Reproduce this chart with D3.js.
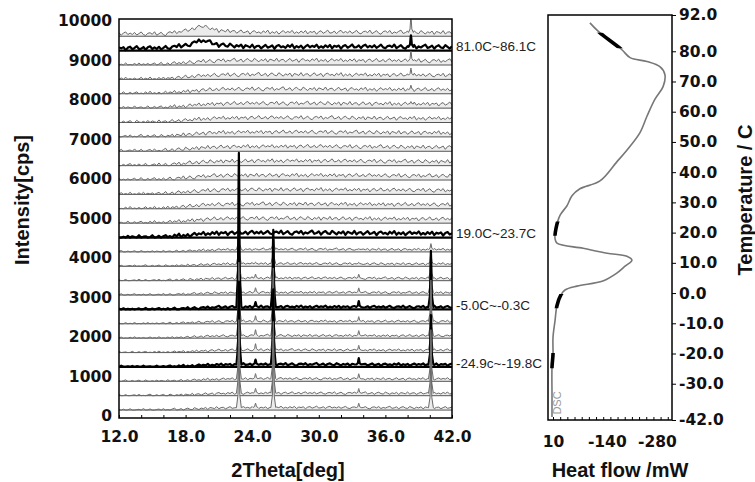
<!DOCTYPE html>
<html>
<head>
<meta charset="UTF-8" />
<title>XRD scans / DSC</title>
<script src="https://d3js.org/d3.v7.min.js"></script>
<style>
  body{margin:0;background:#fff;}
  text{font-family:"Liberation Sans",Arial,sans-serif;}
  .tk text{font-family:"DejaVu Sans",sans-serif;font-weight:bold;font-size:15.5px;fill:#111;}
  .title{font-weight:bold;font-size:20px;fill:#111;}
  .rlab{font-size:13.5px;fill:#222;}
</style>
</head>
<body>
<svg id="chart" width="755" height="482"></svg>
<script>
// ---- data ----
var thetaTicks = [12, 18, 24, 30, 36, 42]
var cpsTicks = [0, 1000, 2000, 3000, 4000, 5000, 6000, 7000, 8000, 9000, 10000]
var tempTicks = [92, 80, 70, 60, 50, 40, 30, 20, 10, 0, -10, -20, -30, -42]
var heatTicks = [10, -140, -280]

// 27 stacked scans, index 0 = bottom (coldest)
var scanBase0 = 150, scanStep = 364   // cps offset of each scan
var thickScans = [3, 7, 12, 25]
var rangeLabels = ["-24.9c~-19.8C", "-5.0C~-0.3C", "19.0C~23.7C", "81.0C~86.1C"]
var rangeTemps = [[-24.9, -19.8], [-5.0, -0.3], [19.0, 23.7], [81.0, 86.1]]

// background level above each scan's baseline (cps)
var bgAngles = [12, 16, 18, 19.5, 21, 24, 30, 36, 42]
var bgIce  = [0, 5, 20, 40, 55, 65, 65, 60, 60]
var bgWarm = [0, 15, 55, 90, 110, 120, 120, 110, 100]
var bgHump = [60, 60, 130, 260, 140, 100, 100, 100, 90]
var scanProfile = ["ice","ice","ice","ice","ice","ice","ice","ice","ice","ice","ice","ice",
  "warm","warm","warm","warm","warm","warm","warm","warm","warm","warm","warm","warm","warm",
  "hump","hump"]
var rippleGain = {ice: 1.6, warm: 2.6, hump: 2.6}
var ripple = [8,-6,14,-11,3,19,-7,-15,6,11,-4,21,-13,1,16,-9,-19,7,13,-3,18,-14,4,-6,10,22,-10,-2,13,-17,
  6,17,-5,-11,19,2,-15,8,-4,15,-18,11,3,-8,20,-13,5,9,-16,1,18,-9,-1,12,-20,7,16,-6,4,-12,14,-3,21,-15,
  6,-8,10,-18,2,17,-6,8,-2,19,-12,4,-10,13,-5,17,-16,8,-1,11,-19,6,15,-10,3,21,-8,-4,12,-14,9,19,-7]

// diffraction peaks (2theta) and heights per scan (cps)
var peakPos = [22.8, 24.3, 25.9, 33.6, 38.3, 40.1]
var peakHeights = [
  [1500, 110, 1400, 110, 0, 1200],
  [1500, 120, 1400, 120, 0, 1200],
  [1500, 130, 1450, 130, 0, 1250],
  [2100, 120, 1900, 160, 0, 1250],
  [1500, 160, 1400, 120, 0, 1100],
  [1500, 150, 1400, 130, 0, 1100],
  [1500, 140, 1350, 120, 0, 1050],
  [3900, 120, 1950, 150, 0, 1420],
  [1400, 120, 1400, 120, 0, 900],
  [1300, 100, 1150, 100, 0, 600],
  [900, 40, 750, 40, 0, 300],
  [600, 20, 400, 20, 0, 150],
  [0, 0, 0, 0, 0, 0],
  [0, 0, 0, 0, 0, 0],
  [0, 0, 0, 0, 0, 0],
  [0, 0, 0, 0, 0, 0],
  [0, 0, 0, 0, 0, 0],
  [0, 0, 0, 0, 0, 0],
  [0, 0, 0, 0, 0, 0],
  [0, 0, 0, 0, 0, 0],
  [0, 0, 0, 0, 0, 0],
  [0, 0, 0, 0, 60, 0],
  [0, 0, 0, 0, 110, 0],
  [0, 0, 0, 0, 180, 0],
  [0, 0, 0, 0, 250, 0],
  [0, 0, 0, 0, 290, 0],
  [0, 0, 0, 0, 400, 0]
]
var peakShape = [[-0.22, 0], [-0.08, 0.22], [-0.03, 0.8], [0, 1], [0.03, 0.8], [0.08, 0.22], [0.22, 0]]

// DSC trace: heat flow (mW) vs temperature (C)
var dscHeat = [-93, -118, -182, -205, -252, -288, -302, -297, -274, -252, -233, -205, -168, -121, -65, -43, -29, -9.5,
  1.6, 4.4, -1, -74, -141, -196, -210, -191, -168, -129, -57, -23.5, -12, -1, 4.4, 10, 10, 12.8, 12.8, 12.8]
var dscTemp = [89.4, 86.4, 80.5, 77.9, 76.6, 74.9, 72.3, 68.3, 64.1, 58.5, 53.2, 48.6, 43.4, 37.1, 34.5, 32.2, 28.9, 25.7,
  21.4, 18.1, 16.5, 14.8, 13.2, 12.2, 10.9, 8.9, 6.6, 4.0, 2.3, 1.0, -0.6, -4.2, -9.2, -14.7, -20.3, -24.6, -33.5, -41]

// ---- layout ----
var svg = d3.select("#chart")
var L = {left: 119, right: 452, top: 19, bottom: 418}
var R = {left: 548, right: 672, top: 15, bottom: 420}

var x = d3.scaleLinear().domain([12, 42]).range([L.left, L.right])
var y = d3.scaleLinear().domain([0, 10000]).range([416, 21])
var xH = d3.scaleLinear().domain([10, -280]).range([553, 657])
var yT = d3.scaleLinear().domain([-42, 92]).range([R.bottom, R.top])

var defs = svg.append("defs")
defs.append("clipPath").attr("id", "clipL").append("rect")
  .attr("x", L.left).attr("y", L.top).attr("width", L.right - L.left).attr("height", L.bottom - L.top)

// ---- XRD scans ----
var bgProfiles = {ice: bgIce, warm: bgWarm, hump: bgHump}
var grid = d3.range(12, 42.001, 0.2)

function scanPoints(i) {
  var bg = d3.scaleLinear().domain(bgAngles).range(bgProfiles[scanProfile[i]]).clamp(true)
  var gain = rippleGain[scanProfile[i]]
  var peaks = peakPos.map((p, j) => ({p: p, h: peakHeights[i][j]})).filter(d => d.h > 0)
  var pts = []
  grid.forEach((t, k) => {
    if (peaks.some(d => Math.abs(t - d.p) < 0.24)) return
    pts.push([t, Math.max(0, bg(t) + gain * ripple[(k + i * 11) % ripple.length])])
  })
  peaks.forEach(d => {
    peakShape.forEach(s => pts.push([d.p + s[0], bg(d.p) + s[1] * d.h]))
  })
  pts.sort((a, b) => a[0] - b[0])
  return pts
}

var plot = svg.append("g").attr("clip-path", "url(#clipL)")
d3.range(26, -1, -1).forEach(i => {
  var base = scanBase0 + scanStep * i
  var pts = scanPoints(i)
  var thick = thickScans.includes(i)
  var g = plot.append("g")
  g.append("path").datum(pts)
    .attr("d", d3.area().x(d => x(d[0])).y0(y(base)).y1(d => y(base + d[1])))
    .attr("fill", thick ? "#fff" : "#ececec")
  g.append("line")
    .attr("x1", L.left).attr("x2", L.right).attr("y1", y(base)).attr("y2", y(base))
    .attr("stroke", thick ? "#000" : "#555").attr("stroke-width", thick ? 2.2 : 1)
  g.append("path").datum(pts)
    .attr("d", d3.line().x(d => x(d[0])).y(d => y(base + d[1])))
    .attr("fill", "none")
    .attr("stroke", thick ? "#000" : "#6a6a6a")
    .attr("stroke-width", thick ? 2.2 : 1)
    .attr("stroke-linejoin", "round")
})

// range labels beside the bold scans
thickScans.forEach((s, j) => {
  svg.append("text").attr("class", "rlab")
    .attr("x", 456).attr("y", y(scanBase0 + scanStep * s) - 3)
    .attr("dominant-baseline", "middle")
    .text(rangeLabels[j])
})

// frame + axes, left panel
svg.append("rect").attr("x", L.left).attr("y", L.top)
  .attr("width", L.right - L.left).attr("height", L.bottom - L.top)
  .attr("fill", "none").attr("stroke", "#000").attr("stroke-width", 1.5)

svg.append("g").attr("class", "tk").attr("transform", "translate(0," + L.bottom + ")")
  .call(d3.axisBottom(x).tickValues(d3.range(12, 42.1, 2)).tickSize(-3).tickFormat(""))
  .call(g => g.select(".domain").remove())
svg.append("g").attr("class", "tk").attr("transform", "translate(0," + L.bottom + ")")
  .call(d3.axisBottom(x).tickValues(thetaTicks).tickSize(0).tickPadding(13).tickFormat(d => d.toFixed(1)))
  .call(g => g.select(".domain").remove())
svg.append("g").attr("class", "tk").attr("transform", "translate(" + L.left + ",0)")
  .call(d3.axisLeft(y).tickValues(cpsTicks).tickSize(0).tickPadding(7).tickFormat(d => String(d)))
  .call(g => g.select(".domain").remove())

svg.append("text").attr("class", "title").attr("x", 288).attr("y", 477)
  .attr("text-anchor", "middle").text("2Theta[deg]")
svg.append("text").attr("class", "title")
  .attr("transform", "translate(29,200) rotate(-90)")
  .attr("text-anchor", "middle").text("Intensity[cps]")

// ---- DSC panel ----
var dsc = dscHeat.map((h, k) => [h, dscTemp[k]])
var dscLine = d3.line().x(d => xH(d[0])).y(d => yT(d[1])).curve(d3.curveCatmullRom)

svg.append("path").datum(dsc).attr("d", dscLine)
  .attr("fill", "none").attr("stroke", "#777").attr("stroke-width", 1.6)

rangeTemps.forEach((r, j) => {
  defs.append("clipPath").attr("id", "band" + j).append("rect")
    .attr("x", R.left).attr("width", R.right - R.left)
    .attr("y", yT(r[1])).attr("height", yT(r[0]) - yT(r[1]))
  svg.append("path").datum(dsc).attr("d", dscLine)
    .attr("clip-path", "url(#band" + j + ")")
    .attr("fill", "none").attr("stroke", "#000").attr("stroke-width", 3.6)
})

svg.append("text").attr("transform", "translate(561,403) rotate(-90)")
  .attr("text-anchor", "middle").attr("font-size", 11).attr("fill", "#999").text("DSC")

svg.append("rect").attr("x", R.left).attr("y", R.top)
  .attr("width", R.right - R.left).attr("height", R.bottom - R.top)
  .attr("fill", "none").attr("stroke", "#000").attr("stroke-width", 1.5)

svg.append("g").attr("class", "tk").attr("transform", "translate(0," + R.bottom + ")")
  .call(d3.axisBottom(xH).tickValues(d3.range(10, -321, -20)).tickSize(-3).tickFormat(""))
  .call(g => g.select(".domain").remove())
svg.append("g").attr("class", "tk").attr("transform", "translate(0," + R.bottom + ")")
  .call(d3.axisBottom(xH).tickValues(heatTicks).tickSize(0).tickPadding(16).tickFormat(d => String(d)))
  .call(g => g.select(".domain").remove())
svg.append("g").attr("class", "tk").attr("transform", "translate(" + R.right + ",0)")
  .call(d3.axisRight(yT).tickValues(tempTicks).tickSize(4).tickPadding(3).tickFormat(d => d.toFixed(1)))
  .call(g => g.select(".domain").remove())

svg.append("text").attr("class", "title").attr("x", 620).attr("y", 477)
  .attr("text-anchor", "middle").text("Heat flow /mW")
svg.append("text").attr("class", "title")
  .attr("transform", "translate(752,200) rotate(-90)")
  .attr("text-anchor", "middle").text("Temperature / C")
</script>
</body>
</html>
